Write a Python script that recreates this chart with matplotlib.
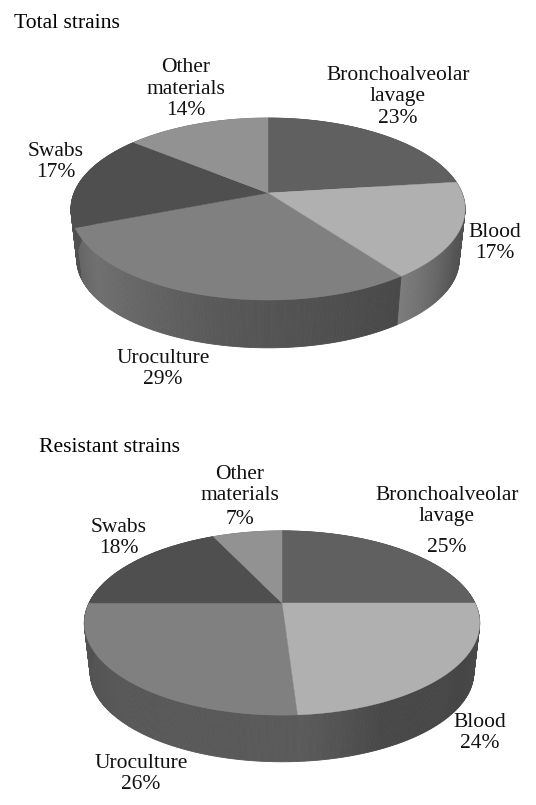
import numpy as np
import matplotlib
matplotlib.use("Agg")
import matplotlib.pyplot as plt
from matplotlib.patches import Rectangle

plt.rcParams['font.family'] = ['Liberation Serif', 'DejaVu Serif']

# values (percent)
categories = ['Bronchoalveolar', 'Blood', 'Uroculture', 'Swabs', 'Other materials']
total_values = [23, 17, 29, 17, 14]
resistant_values = [25, 24, 26, 18, 7]

# greys of the top faces
top_colors = ['#606060', '#b0b0b0', '#808080', '#4f4f4f', '#929292']


def project(theta, apex, R, a, k, shift=0.0, scale=1.0):
    # circle seen in perspective, theta clockwise from 12 o'clock
    u = np.sin(theta)
    v = np.cos(theta)
    den = 1 + k * v
    return apex[0] + scale * R * u / den, apex[1] + shift - scale * a * v / den


def draw_pie(ax, values, apex, R, a, k, shift, scale, wall_shades):
    fracs = np.array(values, dtype=float) / sum(values)
    edges = np.concatenate([[0], np.cumsum(fracs)]) * 2 * np.pi

    # side wall first, top faces cover what is hidden
    for i in range(len(values)):
        n = max(int((edges[i + 1] - edges[i]) * 90), 4)
        th = np.linspace(edges[i], edges[i + 1], n + 1)
        x0, y0 = project(th, apex, R, a, k)
        x1, y1 = project(th, apex, R, a, k, shift, scale)
        stops, greys = wall_shades[i]
        for j in range(n):
            g = np.interp((th[j] - edges[i]) / (edges[i + 1] - edges[i]), stops, greys) / 255
            ax.fill([x0[j], x0[j + 1], x1[j + 1], x1[j]],
                    [y0[j], y0[j + 1], y1[j + 1], y1[j]],
                    color=(g, g, g), lw=0.6, zorder=2)

    for i in range(len(values)):
        th = np.linspace(edges[i], edges[i + 1], 120)
        x, y = project(th, apex, R, a, k)
        ax.fill(np.r_[apex[0], x], np.r_[apex[1], y], color=top_colors[i], lw=0.3, zorder=3)


fig = plt.figure(figsize=(5.36, 8.05), dpi=100)
ax = fig.add_axes([0, 0, 1, 1])
ax.set_xlim(0, 536)
ax.set_ylim(805, 0)
ax.axis('off')

# wall shading per slice: (position along slice, grey level)
total_walls = [
    ([0, 1], [90, 90]),
    ([0, 0.3, 0.55, 1], [80, 78, 85, 125]),
    ([0, 0.45, 0.85, 1], [72, 88, 112, 100]),
    ([0, 1], [80, 80]),
    ([0, 1], [130, 130]),
]
resistant_walls = [
    ([0, 1], [85, 85]),
    ([0, 0.4, 0.75, 1], [78, 70, 72, 92]),
    ([0, 0.5, 1], [90, 88, 80]),
    ([0, 1], [80, 80]),
    ([0, 1], [130, 130]),
]

draw_pie(ax, total_values, (268, 193), 194, 88.2, 0.176, 51, 0.97, total_walls)
draw_pie(ax, resistant_values, (282, 603), 193, 87.8, 0.217, 50, 0.97, resistant_walls)

fs = 15.5
ax.text(14, 24, 'Total strains', fontsize=15.6, ha='left', va='center')
ax.text(39, 447, 'Resistant strains', fontsize=15.6, ha='left', va='center')

labels = [
    (398, 97, 'Bronchoalveolar\nlavage\n23%'),
    (495, 243, 'Blood\n17%'),
    (163, 369, 'Uroculture\n29%'),
    (56, 162, 'Swabs\n17%'),
    (186, 89, 'Other\nmaterials\n14%'),
    (447, 506, 'Bronchoalveolar\nlavage'),
    (447, 547, '25%'),
    (480, 733, 'Blood\n24%'),
    (141, 774, 'Uroculture\n26%'),
    (119, 538, 'Swabs\n18%'),
    (240, 474, 'Other'),
    (240, 495, 'materials'),
    (240, 519, '7%'),
]
for x, y, s in labels:
    ax.text(x, y, s, fontsize=fs, ha='center', va='center', linespacing=1.18, color='#111111', zorder=4)

# the last label is cut off at the bottom in the original
ax.add_patch(Rectangle((0, 791), 536, 14, color='white', zorder=5))

fig.savefig('out.png', dpi=100)
